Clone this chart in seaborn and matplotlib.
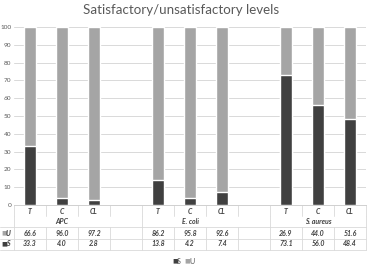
import matplotlib
matplotlib.use("Agg")
import matplotlib.pyplot as plt
import matplotlib.transforms as mtransforms
import seaborn as sns
import pandas as pd

# data
groups = ["APC", "E. coli", "S. aureus"]
methods = ["T", "C", "CL"]
u_vals = [66.6, 96.0, 97.2, 86.2, 95.8, 92.6, 26.9, 44.0, 51.6]
s_vals = [33.3, 4.0, 2.8, 13.8, 4.2, 7.4, 73.1, 56.0, 48.4]

keys = [g + " " + m for g in groups for m in methods]
order = keys[0:3] + ["gap1"] + keys[3:6] + ["gap2"] + keys[6:9]
df = pd.DataFrame({"key": keys, "S": s_vals, "U": u_vals})
df["total"] = df["S"] + df["U"]

dark = "#404040"
light = "#a5a5a5"

sns.set_style("white")
plt.rcParams["font.family"] = ["Lato", "DejaVu Sans"]

W, H = 371, 266
fig = plt.figure(figsize=(W / 100, H / 100), dpi=100)
ax = fig.add_axes([14 / W, 1 - 205 / H, 352 / W, 178 / H])

sns.barplot(data=df, x="key", y="total", order=order, color=light, width=0.38,
            saturation=1, ax=ax, zorder=2)
sns.barplot(data=df, x="key", y="S", order=order, color=dark, width=0.38,
            saturation=1, ax=ax, zorder=3)

ax.set_xlim(-0.5, len(order) - 0.5)
ax.set_ylim(0, 100)
ax.set_yticks(range(0, 101, 10))
ax.yaxis.grid(True, color="#d9d9d9", linewidth=0.7, zorder=0)
ax.tick_params(axis="y", labelsize=4.6, colors="#595959", length=0, pad=2)
ax.set_xticks([])
ax.set_xlabel("")
ax.set_ylabel("")
for sp in ["top", "right", "left"]:
    ax.spines[sp].set_visible(False)
ax.spines["bottom"].set_color("#d0d0d0")
ax.spines["bottom"].set_linewidth(0.7)

fig.text(181 / W, 1 - 10 / H, "Satisfactory/unsatisfactory levels",
         ha="center", va="center", fontsize=9.6, color="#595959")

# data table under the bars
tr = mtransforms.blended_transform_factory(ax.transData, fig.transFigure)
def fy(p):
    return 1 - p / H

lc = "#d9d9d9"
tkw = dict(transform=tr, ha="center", va="center", fontsize=5,
           style="italic", fontweight="bold", color="#404040")
positions = [order.index(k) for k in keys]
for i, k in enumerate(keys):
    x = positions[i]
    ax.text(x, fy(211), methods[i % 3], **tkw)
    ax.text(x, fy(233), f"{u_vals[i]:.1f}", **tkw)
    ax.text(x, fy(244), f"{s_vals[i]:.1f}", **tkw)
for gi, g in enumerate(groups):
    ax.text(positions[gi * 3 + 1], fy(222), g, **tkw)

x0 = -0.5 - 14 / 32
for yp in [227, 239, 250]:
    ax.plot([x0, len(order) - 0.5], [fy(yp), fy(yp)], transform=tr,
            color=lc, lw=0.6, clip_on=False)
for b in range(len(order) + 1):
    xb = b - 0.5
    ax.plot([xb, xb], [fy(205), fy(216)], transform=tr, color=lc, lw=0.6, clip_on=False)
    ax.plot([xb, xb], [fy(227), fy(250)], transform=tr, color=lc, lw=0.6, clip_on=False)
for xb in [-0.5, 3.5, 7.5, len(order) - 0.5]:
    ax.plot([xb, xb], [fy(216), fy(227)], transform=tr, color=lc, lw=0.6, clip_on=False)

# row keys
for yp, lab, col in [(233, "U", light), (244, "S", dark)]:
    fig.text(1 / W, fy(yp), "\u25a0", color=col, fontsize=4.5, va="center",
             family="DejaVu Sans")
    fig.text(6 / W, fy(yp), lab, fontsize=5, style="italic", fontweight="bold",
             color="#404040", va="center")

# legend
for xp, lab, col in [(172, "S", dark), (184, "U", light)]:
    fig.text(xp / W, fy(261), "\u25a0", color=col, fontsize=4.5, va="center",
             family="DejaVu Sans")
    fig.text((xp + 5) / W, fy(261), lab, fontsize=5, color="#595959", va="center")

fig.savefig("out.png", dpi=100, facecolor="white")
